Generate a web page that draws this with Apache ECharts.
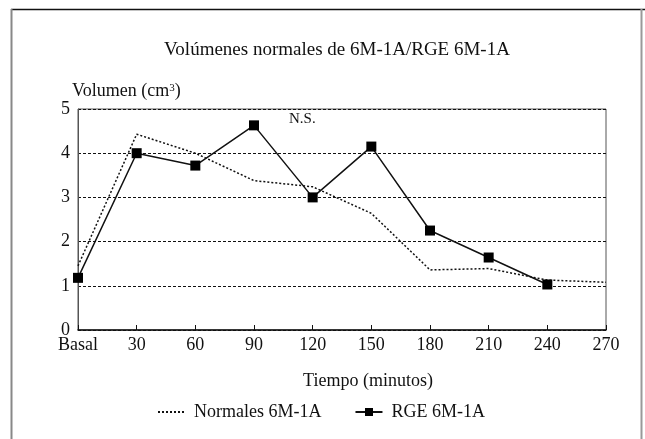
<!DOCTYPE html>
<html>
<head>
<meta charset="utf-8">
<script src="https://cdn.jsdelivr.net/npm/echarts@6/dist/echarts.min.js"></script>
<style>
  html, body { margin: 0; padding: 0; background: #fff; }
  #chart { width: 645px; height: 439px; }
</style>
</head>
<body>
<div id="chart"></div>
<script>
// datos
var tiempos = [0, 30, 60, 90, 120, 150, 180, 210, 240, 270];
var normales = [1.45, 4.43, 4.0, 3.38, 3.24, 2.64, 1.36, 1.39, 1.13, 1.08];
var rge = [1.18, 4.0, 3.72, 4.63, 3.0, 4.15, 2.25, 1.64, 1.03];
var yTicks = [0, 1, 2, 3, 4, 5];

var fuente = 'Liberation Serif';

function pares(xs, ys) {
  var out = [];
  for (var i = 0; i < ys.length; i++) out.push([xs[i], ys[i]]);
  return out;
}

var chart = echarts.init(document.getElementById('chart'));

var option = {
  animation: false,
  // título
  title: {
    text: 'Volúmenes normales de 6M-1A/RGE 6M-1A',
    left: 332,
    textAlign: 'center',
    top: 36,
    textStyle: { fontFamily: fuente, fontSize: 19, fontWeight: 'normal', color: '#111' }
  },
  // marco exterior
  graphic: [
    { type: 'line', shape: { x1: 11, y1: 9.5, x2: 645, y2: 9.5 }, style: { stroke: '#111', lineWidth: 1.5 } },
    { type: 'line', shape: { x1: 11.5, y1: 9, x2: 11.5, y2: 439 }, style: { stroke: '#888', lineWidth: 2 } },
    { type: 'line', shape: { x1: 641.5, y1: 9, x2: 641.5, y2: 439 }, style: { stroke: '#999', lineWidth: 2 } },
    { type: 'text', left: 289, top: 112, style: { text: 'N.S.', font: '15px "Liberation Serif"', fill: '#111' } }
  ],
  legend: {
    left: 152,
    top: 398,
    itemWidth: 27,
    itemHeight: 10,
    itemGap: 33,
    textStyle: { fontFamily: fuente, fontSize: 18, color: '#111', padding: [0, 0, 0, 4] },
    data: [
      { name: 'Normales 6M-1A', itemStyle: { opacity: 0 } },
      { name: 'RGE 6M-1A' }
    ]
  },
  grid: {
    left: 78, right: 39, top: 109, bottom: 109,
    show: true, borderColor: '#555', borderWidth: 1
  },
  xAxis: {
    type: 'value',
    min: 0, max: 270, interval: 30,
    name: 'Tiempo (minutos)',
    nameLocation: 'middle',
    nameGap: 42,
    nameTextStyle: { fontFamily: fuente, fontSize: 18, color: '#111', padding: [0, 0, 0, 52] },
    axisLine: { lineStyle: { color: '#111', width: 1.5 } },
    axisTick: { inside: true, length: 5, lineStyle: { color: '#111' } },
    axisLabel: {
      fontFamily: fuente, fontSize: 18, color: '#111', margin: 6,
      formatter: function (v) { return v === 0 ? 'Basal' : String(v); }
    },
    splitLine: { show: false }
  },
  yAxis: {
    type: 'value',
    min: yTicks[0], max: yTicks[yTicks.length - 1], interval: 1,
    name: 'Volumen (cm{sup|3})',
    nameLocation: 'end',
    nameGap: 6,
    nameTextStyle: {
      fontFamily: fuente, fontSize: 18, color: '#111', align: 'left', padding: [0, 0, 0, -6],
      rich: { sup: { fontFamily: fuente, fontSize: 11, color: '#111', padding: [0, 0, 6, 0] } }
    },
    axisLine: { show: true, lineStyle: { color: '#555' } },
    axisTick: { show: false },
    axisLabel: { fontFamily: fuente, fontSize: 18, color: '#111', margin: 8 },
    splitLine: { show: true, lineStyle: { color: '#111', type: [3, 2], width: 1 } }
  },
  series: [
    {
      name: 'Normales 6M-1A',
      type: 'line',
      symbol: 'none',
      data: pares(tiempos, normales),
      lineStyle: { color: '#111', width: 1.5, type: [2, 2] },
      itemStyle: { color: '#111' }
    },
    {
      name: 'RGE 6M-1A',
      type: 'line',
      symbol: 'rect',
      symbolSize: 10,
      data: pares(tiempos, rge),
      lineStyle: { color: '#111', width: 1.5 },
      itemStyle: { color: '#000' }
    }
  ]
};

chart.setOption(option);
</script>
</body>
</html>
